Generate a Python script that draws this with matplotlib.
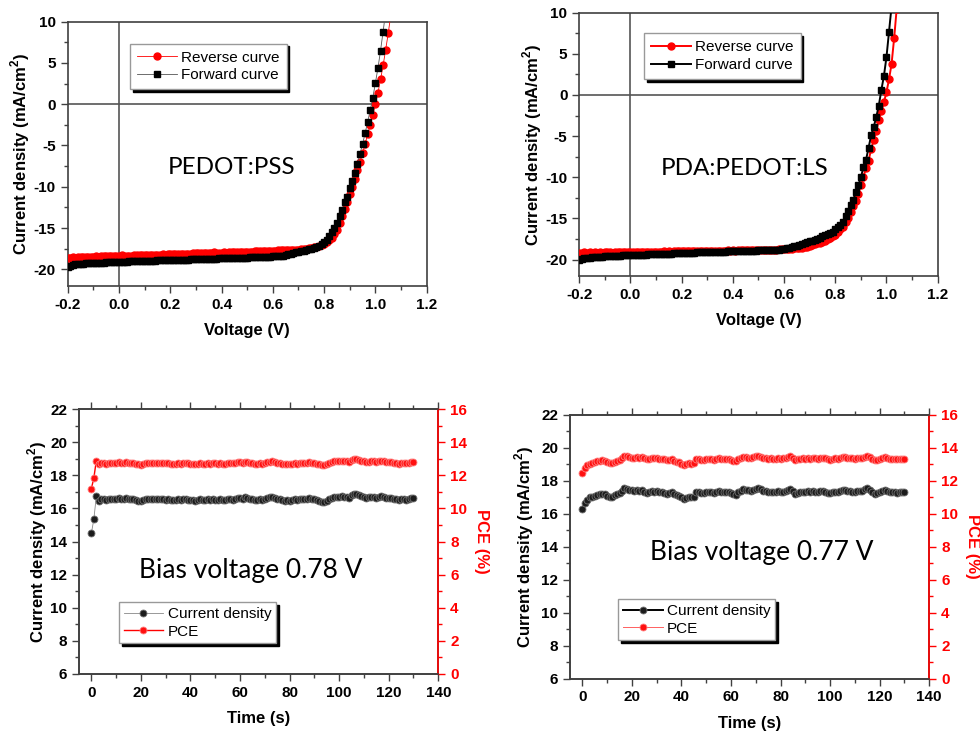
import numpy as np
import matplotlib.pyplot as plt
from matplotlib.ticker import MultipleLocator

plt.rcParams['font.family'] = ['Liberation Sans', 'DejaVu Sans']
plt.rcParams['font.weight'] = 'bold'
plt.rcParams['axes.labelweight'] = 'bold'
plt.rcParams['axes.unicode_minus'] = False
plt.rcParams['mathtext.fontset'] = 'custom'
plt.rcParams['mathtext.rm'] = 'Liberation Sans:bold'
plt.rcParams['mathtext.bf'] = 'Liberation Sans:bold'

# ---- J-V sweeps (0.01 V steps from -0.20 V) ----
volt = np.round(np.arange(-0.20, 1.065, 0.01), 2)

pss_rev = [-18.62, -18.60, -18.57, -18.58, -18.55, -18.53, -18.55, -18.50, -18.51, -18.48,
           -18.47, -18.45, -18.48, -18.44, -18.42, -18.43, -18.44, -18.40, -18.38, -18.41,
           -18.45, -18.30, -18.36, -18.34, -18.33, -18.35, -18.31, -18.29, -18.32, -18.28,
           -18.27, -18.26, -18.29, -18.24, -18.23, -18.26, -18.21, -18.20, -18.23, -18.18,
           -18.17, -18.12, -18.16, -18.14, -18.13, -18.15, -18.11, -18.10, -18.12, -18.08,
           -18.07, -18.06, -18.08, -18.04, -18.03, -18.05, -18.01, -17.96, -18.02, -17.98,
           -17.97, -17.96, -17.98, -17.93, -17.92, -17.95, -17.90, -17.89, -17.92, -17.87,
           -17.86, -17.85, -17.88, -17.83, -17.82, -17.84, -17.80, -17.79, -17.78, -17.76,
           -17.75, -17.74, -17.72, -17.71, -17.70, -17.68, -17.70, -17.67, -17.66, -17.66,
           -17.65, -17.60, -17.55, -17.50, -17.45, -17.40, -17.35, -17.25, -17.15, -17.05,
           -16.90, -16.70, -16.45, -16.15, -15.70, -15.20, -14.40, -13.60, -12.70, -11.80,
           -10.90, -10.00, -9.10, -8.00, -7.00, -5.90, -4.80, -3.60, -2.50, -1.30,
           0.00, 1.40, 3.00, 4.70, 6.60, 8.60, 10.80]
pss_fwd = [-19.70, -19.55, -19.46, -19.40, -19.37, -19.32, -19.31, -19.28, -19.26, -19.25,
           -19.23, -19.22, -19.20, -19.19, -19.18, -19.16, -19.15, -19.14, -19.12, -19.11,
           -19.10, -19.09, -19.07, -19.07, -19.05, -19.04, -19.03, -19.01, -19.00, -19.00,
           -18.98, -18.97, -18.97, -18.95, -18.94, -18.93, -18.93, -18.91, -18.90, -18.89,
           -18.88, -18.88, -18.86, -18.85, -18.85, -18.83, -18.82, -18.82, -18.80, -18.79,
           -18.78, -18.78, -18.76, -18.75, -18.75, -18.73, -18.72, -18.72, -18.70, -18.69,
           -18.68, -18.68, -18.66, -18.65, -18.65, -18.63, -18.62, -18.62, -18.60, -18.59,
           -18.58, -18.57, -18.56, -18.55, -18.54, -18.53, -18.52, -18.50, -18.49, -18.47,
           -18.45, -18.43, -18.41, -18.38, -18.35, -18.28, -18.20, -18.12, -18.03, -17.94,
           -17.85, -17.80, -17.75, -17.70, -17.60, -17.50, -17.40, -17.30, -17.15, -16.95,
           -16.70, -16.40, -16.00, -15.50, -15.00, -14.40, -13.50, -12.80, -11.90, -11.20,
           -10.20, -9.30, -8.30, -7.20, -6.00, -4.80, -3.50, -2.10, -0.70, 0.80,
           2.60, 4.40, 6.50, 8.80, 11.20]

pda_rev = [-19.15, -19.18, -19.14, -19.16, -19.12, -19.17, -19.13, -19.15, -19.11, -19.16,
           -19.12, -19.14, -19.10, -19.15, -19.12, -19.09, -19.13, -19.11, -19.14, -19.10,
           -19.12, -19.08, -19.11, -19.07, -19.10, -19.06, -19.09, -19.05, -19.08, -19.04,
           -19.07, -19.03, -19.06, -19.02, -19.05, -19.01, -19.04, -19.00, -18.92, -19.02,
           -18.99, -19.01, -18.98, -19.00, -18.97, -18.99, -18.96, -18.98, -18.95, -18.97,
           -18.95, -18.96, -18.93, -18.95, -18.92, -18.94, -18.91, -18.93, -18.90, -18.92,
           -18.89, -18.91, -18.88, -18.90, -18.87, -18.89, -18.86, -18.88, -18.85, -18.86,
           -18.84, -18.85, -18.82, -18.84, -18.81, -18.82, -18.80, -18.81, -18.78, -18.76,
           -18.74, -18.72, -18.70, -18.68, -18.66, -18.62, -18.58, -18.54, -18.50, -18.45,
           -18.30, -18.22, -18.14, -18.05, -17.95, -17.82, -17.70, -17.55, -17.40, -17.20,
           -17.00, -16.70, -16.35, -16.00, -15.45, -14.90, -14.25, -13.55, -12.85, -12.00,
           -11.00, -9.95, -8.90, -8.00, -6.60, -5.50, -4.40, -3.10, -2.00, -0.90,
           0.35, 1.90, 3.80, 6.90, 10.50]
pda_fwd = [-20.00, -19.90, -19.85, -19.80, -19.76, -19.74, -19.70, -19.68, -19.66, -19.64,
           -19.62, -19.60, -19.59, -19.57, -19.56, -19.54, -19.53, -19.51, -19.50, -19.49,
           -19.47, -19.46, -19.45, -19.44, -19.42, -19.41, -19.40, -19.39, -19.37, -19.36,
           -19.35, -19.34, -19.33, -19.31, -19.30, -19.29, -19.27, -19.26, -19.25, -19.22,
           -19.20, -19.19, -19.18, -19.17, -19.16, -19.15, -19.14, -19.12, -19.11, -19.10,
           -19.09, -19.08, -19.07, -19.06, -19.05, -19.05, -19.04, -19.03, -19.02, -19.01,
           -19.00, -18.99, -18.98, -18.97, -18.96, -18.95, -18.94, -18.93, -18.92, -18.91,
           -18.90, -18.89, -18.88, -18.87, -18.86, -18.85, -18.83, -18.81, -18.79, -18.77,
           -18.72, -18.66, -18.58, -18.50, -18.40, -18.30, -18.20, -18.10, -18.00, -17.90,
           -17.80, -17.70, -17.60, -17.50, -17.35, -17.20, -17.08, -16.95, -16.80, -16.60,
           -16.35, -16.05, -15.75, -15.40, -14.75, -14.10, -13.40, -12.75, -11.85, -11.00,
           -10.00, -8.80, -7.90, -6.45, -4.90, -3.90, -2.70, -1.30, 0.60, 2.30,
           4.60, 7.70, 10.80]

# ---- stabilised output at fixed bias (1 s steps) ----
time_s = np.arange(0, 131)

j_078 = [14.50, 15.35, 16.75, 16.45, 16.55, 16.58, 16.52, 16.56, 16.60, 16.55,
         16.58, 16.62, 16.60, 16.57, 16.61, 16.59, 16.55, 16.58, 16.53, 16.48,
         16.45, 16.50, 16.58, 16.60, 16.57, 16.59, 16.56, 16.58, 16.55, 16.57,
         16.54, 16.56, 16.52, 16.50, 16.53, 16.55, 16.52, 16.56, 16.58, 16.54,
         16.50, 16.53, 16.48, 16.52, 16.55, 16.50, 16.54, 16.58, 16.52, 16.56,
         16.54, 16.52, 16.56, 16.53, 16.50, 16.55, 16.58, 16.54, 16.57, 16.62,
         16.65, 16.60, 16.68, 16.63, 16.58, 16.55, 16.50, 16.53, 16.56, 16.52,
         16.55, 16.62, 16.68, 16.72, 16.66, 16.60, 16.55, 16.52, 16.48, 16.50,
         16.46, 16.50, 16.55, 16.52, 16.58, 16.55, 16.60, 16.57, 16.62, 16.58,
         16.55, 16.50, 16.47, 16.42, 16.40, 16.45, 16.55, 16.65, 16.68, 16.72,
         16.70, 16.74, 16.72, 16.68, 16.62, 16.80, 16.90, 16.88, 16.82, 16.75,
         16.70, 16.65, 16.68, 16.72, 16.70, 16.66, 16.72, 16.75, 16.70, 16.65,
         16.62, 16.66, 16.60, 16.56, 16.52, 16.55, 16.58, 16.54, 16.60, 16.64,
         16.66]
pce_078 = [11.20, 11.85, 12.90, 12.70, 12.74, 12.76, 12.72, 12.75, 12.78, 12.74,
           12.76, 12.80, 12.78, 12.76, 12.79, 12.77, 12.74, 12.76, 12.72, 12.68,
           12.65, 12.69, 12.75, 12.77, 12.75, 12.76, 12.74, 12.76, 12.73, 12.75,
           12.73, 12.74, 12.71, 12.69, 12.72, 12.73, 12.71, 12.74, 12.76, 12.73,
           12.70, 12.72, 12.68, 12.71, 12.73, 12.70, 12.72, 12.76, 12.71, 12.74,
           12.73, 12.71, 12.74, 12.72, 12.70, 12.73, 12.76, 12.73, 12.75, 12.79,
           12.82, 12.78, 12.84, 12.80, 12.76, 12.74, 12.70, 12.72, 12.74, 12.71,
           12.73, 12.79, 12.84, 12.87, 12.82, 12.78, 12.74, 12.71, 12.68, 12.70,
           12.67, 12.70, 12.74, 12.71, 12.76, 12.74, 12.78, 12.75, 12.79, 12.76,
           12.74, 12.70, 12.67, 12.63, 12.61, 12.66, 12.74, 12.82, 12.85, 12.88,
           12.86, 12.89, 12.88, 12.85, 12.80, 12.94, 13.02, 13.00, 12.96, 12.90,
           12.86, 12.82, 12.84, 12.87, 12.86, 12.83, 12.87, 12.90, 12.86, 12.82,
           12.80, 12.83, 12.78, 12.75, 12.72, 12.74, 12.77, 12.73, 12.78, 12.81,
           12.83]

j_077 = [16.28, 16.65, 16.85, 17.00, 17.05, 17.10, 17.15, 17.18, 17.22, 17.20,
         17.10, 17.02, 17.05, 17.12, 17.20, 17.28, 17.40, 17.55, 17.50, 17.45,
         17.42, 17.38, 17.45, 17.40, 17.43, 17.35, 17.28, 17.32, 17.38, 17.35,
         17.38, 17.33, 17.30, 17.28, 17.22, 17.26, 17.30, 17.20, 17.12, 17.08,
         17.00, 16.92, 16.98, 17.02, 17.00, 17.05, 17.30, 17.35, 17.28, 17.25,
         17.30, 17.35, 17.30, 17.28, 17.32, 17.36, 17.30, 17.33, 17.35, 17.30,
         17.28, 17.20, 17.15, 17.30, 17.40, 17.48, 17.45, 17.42, 17.38, 17.45,
         17.50, 17.55, 17.48, 17.40, 17.36, 17.34, 17.35, 17.32, 17.34, 17.36,
         17.33, 17.35, 17.38, 17.42, 17.50, 17.40, 17.22, 17.28, 17.32, 17.35,
         17.33, 17.36, 17.34, 17.38, 17.35, 17.32, 17.36, 17.38, 17.35, 17.28,
         17.25, 17.30, 17.35, 17.33, 17.36, 17.42, 17.45, 17.40, 17.38, 17.35,
         17.34, 17.38, 17.36, 17.40, 17.48, 17.55, 17.45, 17.30, 17.22, 17.25,
         17.32, 17.38, 17.42, 17.36, 17.30, 17.32, 17.30, 17.28, 17.30, 17.32,
         17.30]
pce_077 = [12.50, 12.80, 12.95, 13.05, 13.10, 13.15, 13.18, 13.20, 13.24, 13.22,
           13.14, 13.06, 13.09, 13.15, 13.22, 13.28, 13.38, 13.52, 13.48, 13.44,
           13.41, 13.38, 13.43, 13.40, 13.42, 13.36, 13.30, 13.33, 13.38, 13.36,
           13.38, 13.34, 13.32, 13.30, 13.25, 13.28, 13.31, 13.23, 13.16, 13.12,
           13.05, 12.98, 13.03, 13.06, 13.05, 13.09, 13.30, 13.35, 13.29, 13.27,
           13.31, 13.35, 13.31, 13.29, 13.33, 13.36, 13.31, 13.33, 13.35, 13.31,
           13.29, 13.23, 13.18, 13.31, 13.39, 13.46, 13.44, 13.41, 13.38, 13.44,
           13.48, 13.52, 13.46, 13.40, 13.37, 13.35, 13.36, 13.33, 13.35, 13.37,
           13.34, 13.36, 13.38, 13.42, 13.48, 13.40, 13.25, 13.30, 13.33, 13.36,
           13.34, 13.37, 13.35, 13.38, 13.36, 13.33, 13.37, 13.38, 13.36, 13.30,
           13.27, 13.31, 13.36, 13.34, 13.37, 13.42, 13.44, 13.40, 13.38, 13.36,
           13.35, 13.38, 13.37, 13.40, 13.47, 13.53, 13.45, 13.32, 13.25, 13.28,
           13.34, 13.38, 13.42, 13.37, 13.32, 13.34, 13.32, 13.30, 13.32, 13.34,
           13.33]

RED = '#ff0000'
SPINE = '#404040'
jlabel = r'Current density (mA/cm$^{2}$)'

fig = plt.figure(figsize=(9.8, 7.33), dpi=100)


def style_common(ax):
    for s in ax.spines.values():
        s.set_color(SPINE)
        s.set_linewidth(1.2)
    ax.tick_params(which='major', direction='out', length=5, width=1, labelsize=11, color=SPINE)
    ax.tick_params(which='minor', direction='out', length=3, width=1, color=SPINE)


def iv_panel(rect, rev, fwd, name, leg_xy, txt_xy, thick, ypad):
    ax = fig.add_axes(rect)
    ax.axhline(0, color='#555555', lw=1.2, zorder=1)
    ax.axvline(0, color='#555555', lw=1.2, zorder=1)
    lw = 1.4 if thick else 0.6
    ax.plot(volt[:len(rev)], rev, '-o', color=RED, lw=lw, ms=5, mec=RED, label='Reverse curve', zorder=3)
    ax.plot(volt[:len(fwd)], fwd, '-s', color='black' if thick else '#555555', lw=lw, ms=4.2,
            mfc='black', mec='black', label='Forward curve', zorder=4)
    ax.set_xlim(-0.2, 1.2)
    ax.set_ylim(-22, 10)
    ax.xaxis.set_major_locator(MultipleLocator(0.2))
    ax.xaxis.set_minor_locator(MultipleLocator(0.1))
    ax.yaxis.set_major_locator(MultipleLocator(5))
    ax.yaxis.set_minor_locator(MultipleLocator(2.5))
    style_common(ax)
    ax.set_xlabel('Voltage (V)', fontsize=12, labelpad=8)
    ax.set_ylabel(jlabel, fontsize=12, labelpad=ypad)
    ax.legend(loc='upper left', bbox_to_anchor=leg_xy, borderaxespad=0, fancybox=False,
              edgecolor='#999999', framealpha=1, shadow={'color': 'black', 'alpha': 1},
              prop={'weight': 'normal', 'size': 11}, numpoints=1, handlelength=2.6,
              handletextpad=0.3, borderpad=0.45, labelspacing=0.25)
    ax.text(txt_xy[0], txt_xy[1], name, transform=ax.transAxes, ha='center', va='center',
            family='Lato', fontweight='normal', fontsize=17.5)
    return ax


def stab_panel(rect, jd, pce, bias, leg_xy, txt_xy, thick, ypad):
    ax = fig.add_axes(rect)
    axr = ax.twinx()
    lj, = ax.plot(time_s, jd, '-o', color='black' if thick else '#888888', lw=1.4 if thick else 0.6,
                  ms=5, mfc='#1c1c1c', mec='#707070', mew=0.6, label='Current density', zorder=3)
    lp, = axr.plot(time_s, pce, '-o', color=RED if not thick else '#ff6060', lw=1.0 if not thick else 0.7,
                   ms=5, mfc='#ff1010', mec='#ff8080', mew=0.6, label='PCE', zorder=3)
    ax.set_xlim(-5, 140)
    ax.set_ylim(6, 22)
    axr.set_ylim(0, 16)
    ax.xaxis.set_major_locator(MultipleLocator(20))
    ax.xaxis.set_minor_locator(MultipleLocator(10))
    ax.yaxis.set_major_locator(MultipleLocator(2))
    ax.yaxis.set_minor_locator(MultipleLocator(1))
    axr.yaxis.set_major_locator(MultipleLocator(2))
    axr.yaxis.set_minor_locator(MultipleLocator(1))
    style_common(ax)
    ax.tick_params(axis='x', which='both', top=True)
    for s in axr.spines.values():
        s.set_color(SPINE)
        s.set_linewidth(1.2)
    axr.spines['right'].set_color(RED)
    axr.tick_params(which='major', direction='out', length=5, width=1, labelsize=11,
                    color=RED, labelcolor=RED)
    axr.tick_params(which='minor', direction='out', length=3, width=1, color=RED)
    ax.set_xlabel('Time (s)', fontsize=12, labelpad=8)
    ax.set_ylabel(jlabel, fontsize=12, labelpad=ypad)
    axr.set_ylabel('PCE (%)', fontsize=12, color=RED, rotation=270, labelpad=16)
    axr.legend([lj, lp], ['Current density', 'PCE'], loc='upper left', bbox_to_anchor=leg_xy,
               borderaxespad=0, fancybox=False, edgecolor='#999999', framealpha=1,
               shadow={'color': 'black', 'alpha': 1}, prop={'weight': 'normal', 'size': 11},
               numpoints=1, handlelength=2.6, handletextpad=0.3, borderpad=0.3, labelspacing=0.25)
    ax.text(txt_xy[0], txt_xy[1], 'Bias voltage %s V' % bias, transform=ax.transAxes,
            ha='center', va='center', family='Lato', fontweight='normal', fontsize=19)
    return ax


iv_panel([0.0691, 0.6101, 0.3663, 0.3603], pss_rev, pss_fwd, 'PEDOT:PSS',
         (0.1735, 0.9167), (0.4557, 0.4472), False, 1)
iv_panel([0.5911, 0.6235, 0.3657, 0.3592], pda_rev, pda_fwd, 'PDA:PEDOT:LS',
         (0.1805, 0.9218), (0.4623, 0.4090), True, 1)
stab_panel([0.0806, 0.0809, 0.3666, 0.3607], j_078, pce_078, '0.78',
           (0.1113, 0.2700), (0.4787, 0.3920), False, 1)
stab_panel([0.5816, 0.0741, 0.3666, 0.3598], j_077, pce_077, '0.77',
           (0.1344, 0.3011), (0.5335, 0.4793), True, 4)

fig.savefig('out.png', dpi=100)
